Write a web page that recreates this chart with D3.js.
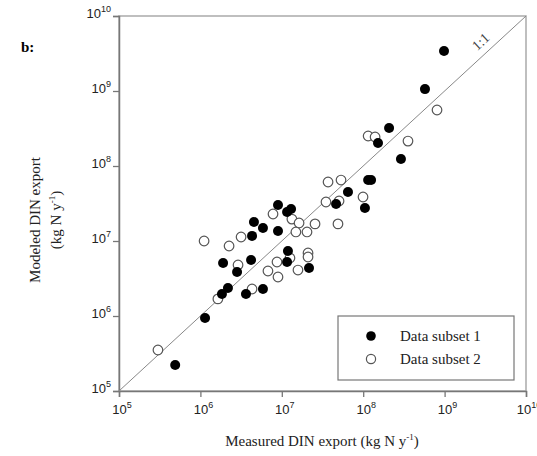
<html>
<head>
<meta charset="utf-8">
<script src="https://cdn.jsdelivr.net/npm/d3@7"></script>
<style>
  body { margin: 0; background: #fff; }
  .serif { font-family: "Liberation Serif", "Times New Roman", serif; }
  .sans { font-family: "Liberation Sans", Arial, sans-serif; }
</style>
</head>
<body>
<svg id="chart" width="537" height="456"></svg>
<script>
// measured (x) and modeled (y) DIN export, kg N / yr
var subset1X = [4.9e5, 1.14e6, 1.84e6, 2.18e6, 3.63e6, 5.87e6, 2.82e6, 1.9e6, 4.19e6, 1.16e7,
                2.16e7, 1.19e7, 4.31e6, 8.98e6, 5.87e6, 4.55e6, 8.98e6, 1.16e7, 1.3e7, 9.84e8,
                5.74e8, 2.08e8, 1.52e8, 2.91e8, 1.15e8, 1.25e8, 6.5e7, 4.64e7, 1.05e8];
var subset1Y = [2.22e5, 9.4e5, 1.97e6, 2.36e6, 1.97e6, 2.29e6, 3.86e6, 5.09e6, 5.58e6, 5.25e6,
                4.37e6, 7.36e6, 1.17e7, 1.36e7, 1.49e7, 1.79e7, 3.02e7, 2.44e7, 2.67e7, 3.41e9,
                1.06e9, 3.21e8, 2.03e8, 1.24e8, 6.5e7, 6.5e7, 4.5e7, 3.11e7, 2.75e7];
var subset2X = [3.01e5, 1.64e6, 4.31e6, 2.9e6, 6.76e6, 8.73e6, 8.98e6, 1.26e7, 1.58e7, 2.1e7,
                2.1e7, 1.11e6, 2.25e6, 3.16e6, 7.8e6, 1.33e7, 1.63e7, 2.56e7, 1.49e7, 2.04e7,
                4.9e7, 8.07e8, 1.15e8, 1.4e8, 3.55e8, 3.7e7, 5.34e7, 9.95e7, 5.05e7, 3.49e7];
var subset2Y = [3.52e5, 1.69e6, 2.29e6, 4.79e6, 3.98e6, 5.25e6, 3.31e6, 5.93e6, 4.1e6, 6.92e6,
                6.12e6, 1.0e7, 8.58e6, 1.13e7, 2.29e7, 1.96e7, 1.74e7, 1.69e7, 1.32e7, 1.32e7,
                1.69e7, 5.58e8, 2.51e8, 2.44e8, 2.15e8, 6.12e7, 6.5e7, 3.86e7, 3.42e7, 3.31e7];
var tickExps = [5, 6, 7, 8, 9, 10];
var legendLabels = ["Data subset 1", "Data subset 2"];

var svg = d3.select("#chart");
var pL = 119, pR = 526, pT = 16, pB = 391;

var x = d3.scaleLog().domain([1e5, 1e10]).range([pL, pR]);
var y = d3.scaleLog().domain([1e5, 1e10]).range([pB, pT]);
var tickVals = tickExps.map(function(e) { return Math.pow(10, e); });

// frame
svg.append("rect")
  .attr("x", pL).attr("y", pT)
  .attr("width", pR - pL).attr("height", pB - pT)
  .attr("fill", "none").attr("stroke", "#aaa").attr("stroke-width", 1.5);

// axes
var xAxis = svg.append("g").attr("transform", "translate(0," + pB + ")")
  .call(d3.axisBottom(x).tickValues(tickVals).tickSize(6).tickFormat(""));
var yAxis = svg.append("g").attr("transform", "translate(" + pL + ",0)")
  .call(d3.axisLeft(y).tickValues(tickVals).tickSize(6).tickFormat(""));
[xAxis, yAxis].forEach(function(a) {
  a.select(".domain").attr("stroke", "#777").attr("stroke-width", 1.5);
  a.selectAll(".tick line").attr("stroke", "#777").attr("stroke-width", 1.3);
});

function powLabel(sel) {
  sel.append("tspan").text("10");
  sel.append("tspan").attr("dy", -6).attr("font-size", 9).text(function(d) { return d; });
}

svg.append("g").selectAll("text").data(tickExps).enter().append("text")
  .attr("class", "sans").attr("font-size", 13).attr("fill", "#222")
  .attr("text-anchor", "middle")
  .attr("x", function(d) { return x(Math.pow(10, d)) + 3; })
  .attr("y", pB + 23)
  .call(powLabel);

svg.append("g").selectAll("text").data(tickExps).enter().append("text")
  .attr("class", "sans").attr("font-size", 13).attr("fill", "#222")
  .attr("text-anchor", "end")
  .attr("x", pL - 8)
  .attr("y", function(d) { return y(Math.pow(10, d)) + 2; })
  .call(powLabel);

// 1:1 line
svg.append("line")
  .attr("x1", x(1e5)).attr("y1", y(1e5))
  .attr("x2", x(1e10)).attr("y2", y(1e10))
  .attr("stroke", "#888").attr("stroke-width", 1);

var ang = Math.atan2(y(1e10) - y(1e5), x(1e10) - x(1e5)) * 180 / Math.PI;
svg.append("text").attr("class", "serif").attr("font-size", 14).attr("fill", "#444")
  .attr("text-anchor", "middle")
  .attr("transform", "translate(" + (x(3.5e9) - 5) + "," + (y(3.5e9) - 5) + ") rotate(" + ang + ")")
  .text("1:1");

// points
var pts1 = subset1X.map(function(v, i) { return [v, subset1Y[i]]; });
var pts2 = subset2X.map(function(v, i) { return [v, subset2Y[i]]; });

svg.append("g").selectAll("circle").data(pts2).enter().append("circle")
  .attr("cx", function(d) { return x(d[0]); })
  .attr("cy", function(d) { return y(d[1]); })
  .attr("r", 4.8)
  .attr("fill", "#fff").attr("stroke", "#555").attr("stroke-width", 1.2);

svg.append("g").selectAll("circle").data(pts1).enter().append("circle")
  .attr("cx", function(d) { return x(d[0]); })
  .attr("cy", function(d) { return y(d[1]); })
  .attr("r", 5)
  .attr("fill", "#000");

// legend
var lg = svg.append("g");
lg.append("rect").attr("x", 338).attr("y", 316).attr("width", 176).attr("height", 64)
  .attr("fill", "#fff").attr("stroke", "#777").attr("stroke-width", 1.2);
legendLabels.forEach(function(t, i) {
  var cy = 336 + i * 23;
  if (i === 0) {
    lg.append("circle").attr("cx", 371).attr("cy", cy).attr("r", 4.8).attr("fill", "#000");
  } else {
    lg.append("circle").attr("cx", 371).attr("cy", cy).attr("r", 4.6)
      .attr("fill", "#fff").attr("stroke", "#555").attr("stroke-width", 1.2);
  }
  lg.append("text").attr("class", "serif").attr("font-size", 15).attr("fill", "#222")
    .attr("x", 400).attr("y", cy + 5).text(t);
});

// titles
svg.append("text").attr("class", "serif").attr("font-size", 15).attr("font-weight", "bold")
  .attr("x", 21).attr("y", 52).text("b:");

var xt = svg.append("text").attr("class", "serif").attr("font-size", 15).attr("fill", "#222")
  .attr("text-anchor", "middle").attr("x", 322).attr("y", 446);
xt.append("tspan").text("Measured DIN export (kg N y");
xt.append("tspan").attr("dy", -6).attr("font-size", 9).text("-1");
xt.append("tspan").attr("dy", 6).text(")");

var yt = svg.append("g").attr("transform", "translate(40,220) rotate(-90)");
yt.append("text").attr("class", "serif").attr("font-size", 15).attr("fill", "#222")
  .attr("text-anchor", "middle").attr("x", 0).attr("y", 0).text("Modeled DIN export");
var yt2 = yt.append("text").attr("class", "serif").attr("font-size", 15).attr("fill", "#222")
  .attr("text-anchor", "middle").attr("x", 0).attr("y", 21);
yt2.append("tspan").text("(kg N y");
yt2.append("tspan").attr("dy", -6).attr("font-size", 9).text("-1");
yt2.append("tspan").attr("dy", 6).text(")");
</script>
</body>
</html>
